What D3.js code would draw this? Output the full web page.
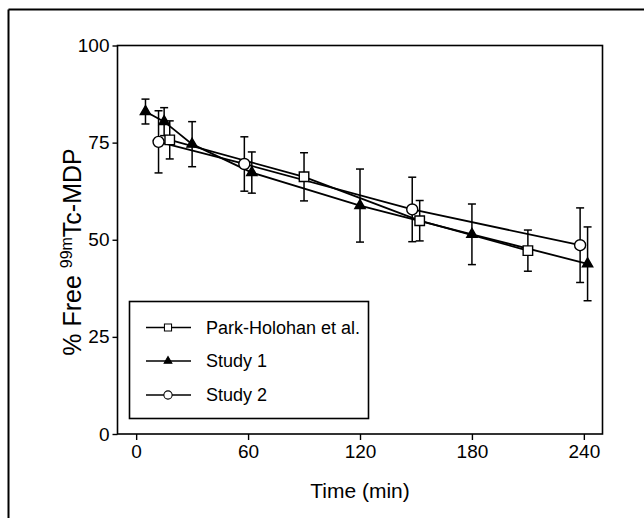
<!DOCTYPE html>
<html>
<head>
<meta charset="utf-8">
<script src="https://cdn.jsdelivr.net/npm/d3@7"></script>
<style>
  body { margin: 0; background: #fff; }
  svg { display: block; font-family: "Liberation Sans", Arial, sans-serif; }
</style>
</head>
<body>
<div id="chart"></div>
<script>
// data (time in min, % free 99mTc-MDP, error = half bar)
var parkTime = [18, 90, 152, 210];
var parkValue = [75.7, 66.2, 54.9, 47.2];
var parkErr = [4.9, 6.2, 5.2, 5.3];

var study1Time = [5, 15, 30, 62, 120, 180, 242];
var study1Value = [83.0, 80.4, 74.6, 67.3, 58.8, 51.4, 43.8];
var study1Err = [3.2, 3.6, 5.8, 5.3, 9.4, 7.8, 9.5];

var study2Time = [12, 58, 148, 238];
var study2Value = [75.2, 69.5, 57.8, 48.6];
var study2Err = [8.0, 7.0, 8.3, 9.6];

var xTicks = [0, 60, 120, 180, 240];
var yTicks = [0, 25, 50, 75, 100];
var seriesNames = ["Park-Holohan et al.", "Study 1", "Study 2"];

var width = 644, height = 518;
var plotLeft = 117.5, plotRight = 602.5, plotTop = 45.5, plotBottom = 434;

var svg = d3.select("#chart").append("svg")
  .attr("width", width)
  .attr("height", height);

// outer frame (only top and left edges visible)
svg.append("line").attr("x1", 8.5).attr("x2", width).attr("y1", 9.5).attr("y2", 9.5)
  .attr("stroke", "#000").attr("stroke-width", 2);
svg.append("line").attr("x1", 8.5).attr("x2", 8.5).attr("y1", 9.5).attr("y2", height)
  .attr("stroke", "#000").attr("stroke-width", 2);

var x = d3.scaleLinear().domain([-10, 250]).range([plotLeft, plotRight]);
var y = d3.scaleLinear().domain([0, 100]).range([plotBottom, plotTop]);

function zip(t, v, e) {
  return t.map((d, i) => ({ t: d, v: v[i], e: e[i] }));
}
var series = [
  { name: seriesNames[0], symbol: "square", data: zip(parkTime, parkValue, parkErr) },
  { name: seriesNames[1], symbol: "triangle", data: zip(study1Time, study1Value, study1Err) },
  { name: seriesNames[2], symbol: "circle", data: zip(study2Time, study2Value, study2Err) }
];

// plot box
svg.append("rect")
  .attr("x", plotLeft).attr("y", plotTop)
  .attr("width", plotRight - plotLeft).attr("height", plotBottom - plotTop)
  .attr("fill", "none").attr("stroke", "#000").attr("stroke-width", 1.6);

// axes
var xAxis = svg.append("g")
  .attr("transform", `translate(0,${plotBottom})`)
  .call(d3.axisBottom(x).tickValues(xTicks).tickSize(6).tickPadding(5));
var yAxis = svg.append("g")
  .attr("transform", `translate(${plotLeft},0)`)
  .call(d3.axisLeft(y).tickValues(yTicks).tickSize(5).tickPadding(3));

[xAxis, yAxis].forEach(function(ax) {
  ax.select(".domain").remove();
  ax.selectAll("line").attr("stroke", "#000").attr("stroke-width", 1.4);
  ax.selectAll("text")
    .attr("fill", "#000")
    .style("font-size", "19px")
    .style("font-family", "'Liberation Sans', Arial, sans-serif");
});

// axis titles
svg.append("text")
  .attr("x", x(120)).attr("y", 498)
  .attr("text-anchor", "middle")
  .style("font-size", "21px")
  .text("Time (min)");

var yTitle = svg.append("text")
  .attr("transform", "translate(81,252) rotate(-90)")
  .attr("text-anchor", "middle")
  .style("font-size", "25px");
yTitle.append("tspan").text("% Free ");
yTitle.append("tspan").attr("dy", -9).style("font-size", "16px").text("99m");
yTitle.append("tspan").attr("dy", 9).text("Tc-MDP");

// error bars
var cap = 4;
series.forEach(function(s) {
  var g = svg.append("g");
  s.data.forEach(function(d) {
    var cx = x(d.t), y1 = y(d.v + d.e), y2 = y(d.v - d.e);
    g.append("line").attr("x1", cx).attr("x2", cx).attr("y1", y1).attr("y2", y2);
    g.append("line").attr("x1", cx - cap).attr("x2", cx + cap).attr("y1", y1).attr("y2", y1);
    g.append("line").attr("x1", cx - cap).attr("x2", cx + cap).attr("y1", y2).attr("y2", y2);
  });
  g.selectAll("line").attr("stroke", "#000").attr("stroke-width", 1.5);
});

// lines
var line = d3.line().x(d => x(d.t)).y(d => y(d.v));
series.forEach(function(s) {
  svg.append("path")
    .datum(s.data)
    .attr("d", line)
    .attr("fill", "none")
    .attr("stroke", "#000")
    .attr("stroke-width", 1.8);
});

// markers
var symbols = {
  square: d3.symbol().type(d3.symbolSquare).size(90),
  triangle: d3.symbol().type(d3.symbolTriangle).size(46),
  circle: d3.symbol().type(d3.symbolCircle).size(95)
};
function drawMarker(sel, kind) {
  sel.append("path")
    .attr("d", symbols[kind]())
    .attr("fill", kind === "triangle" ? "#000" : "#fff")
    .attr("stroke", "#000")
    .attr("stroke-width", 1.4);
}
series.forEach(function(s) {
  s.data.forEach(function(d) {
    var g = svg.append("g").attr("transform", `translate(${x(d.t)},${y(d.v)})`);
    drawMarker(g, s.symbol);
  });
});

// legend
var legend = svg.append("g");
legend.append("rect")
  .attr("x", 129.5).attr("y", 301.5)
  .attr("width", 239).attr("height", 117)
  .attr("fill", "#fff").attr("stroke", "#000").attr("stroke-width", 1.6);
var rowY = [327.5, 361, 395];
series.forEach(function(s, i) {
  var g = legend.append("g").attr("transform", `translate(0,${rowY[i]})`);
  g.append("line").attr("x1", 146).attr("x2", 191).attr("y1", 0).attr("y2", 0)
    .attr("stroke", "#000").attr("stroke-width", 1.5);
  var m = g.append("g").attr("transform", "translate(168,0) scale(0.75)");
  drawMarker(m, s.symbol);
  g.append("text")
    .attr("x", 206).attr("y", 6)
    .style("font-size", "18px")
    .text(s.name);
});
</script>
</body>
</html>
